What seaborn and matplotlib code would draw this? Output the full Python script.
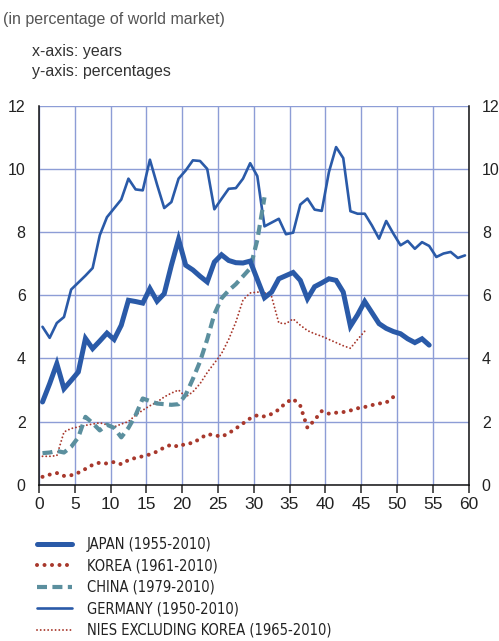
import numpy as np
import pandas as pd
import seaborn as sns
import matplotlib
matplotlib.use("Agg")
from matplotlib import pyplot as plt

# values, one point per year, x = years since series start
japan_start = 0.5
japan = [2.62, 3.2, 3.83, 3.04, 3.3, 3.57, 4.63, 4.31, 4.55, 4.8,
         4.6, 5.05, 5.84, 5.8, 5.75, 6.21, 5.81, 6.05, 6.95, 7.77,
         6.95, 6.8, 6.6, 6.42, 7.05, 7.28, 7.1, 7.03, 7.02, 7.08,
         6.5, 5.92, 6.1, 6.52, 6.62, 6.72, 6.47, 5.89, 6.27, 6.39,
         6.52, 6.47, 6.1, 5.02, 5.38, 5.8, 5.45, 5.1, 4.95, 4.85,
         4.78, 4.62, 4.5, 4.62, 4.42]

korea_start = 0.5
korea = [0.25, 0.32, 0.37, 0.28, 0.3, 0.38, 0.5, 0.63, 0.7, 0.67,
         0.72, 0.65, 0.78, 0.85, 0.9, 0.96, 1.05, 1.18, 1.27, 1.2,
         1.3, 1.32, 1.46, 1.6, 1.57, 1.52, 1.63, 1.78, 1.94, 2.1,
         2.2, 2.16, 2.24, 2.38, 2.6, 2.72, 2.5, 1.8, 2.05, 2.33,
         2.25, 2.28, 2.3, 2.35, 2.42, 2.46, 2.52, 2.57, 2.6, 2.78]

china_start = 0.5
china = [1.0, 1.02, 1.07, 1.02, 1.2, 1.5, 2.15, 1.95, 1.72, 1.9,
         1.8, 1.5, 1.8, 2.2, 2.73, 2.65, 2.57, 2.55, 2.53, 2.55,
         2.85, 3.35, 3.9, 4.6, 5.4, 5.9, 6.15, 6.35, 6.6, 6.85,
         7.75, 9.1]

germany_start = 0.5
germany = [5.0, 4.65, 5.12, 5.31, 6.18, 6.4, 6.62, 6.86, 7.9, 8.47,
           8.75, 9.03, 9.69, 9.35, 9.32, 10.29, 9.5, 8.76, 8.95, 9.69,
           9.95, 10.27, 10.25, 10.0, 8.72, 9.05, 9.37, 9.39, 9.69, 10.18,
           9.77, 8.18, 8.3, 8.42, 7.93, 7.98, 8.87, 9.06, 8.71, 8.67,
           9.9, 10.69, 10.34, 8.66, 8.58, 8.58, 8.21, 7.79, 8.35, 7.95,
           7.58, 7.72, 7.47, 7.68, 7.56, 7.21, 7.32, 7.37, 7.18, 7.26]

nies_start = 0.5
nies = [0.9, 0.9, 0.92, 1.67, 1.78, 1.83, 1.88, 1.92, 1.96, 1.9,
        1.83, 1.92, 2.0, 2.2, 2.36, 2.5, 2.62, 2.78, 2.9, 3.0,
        2.78, 2.94, 3.2, 3.55, 3.85, 4.15, 4.6, 5.15, 5.85, 6.07,
        6.1, 6.08, 5.95, 5.12, 5.1, 5.25, 5.05, 4.88, 4.78, 4.7,
        4.6, 4.5, 4.4, 4.32, 4.6, 4.86]

labels = ["JAPAN (1955-2010)", "KOREA (1961-2010)", "CHINA (1979-2010)",
          "GERMANY (1950-2010)", "NIES EXCLUDING KOREA (1965-2010)"]
x_ticks = [0, 5, 10, 15, 20, 25, 30, 35, 40, 45, 50, 55, 60]
y_ticks = [0, 2, 4, 6, 8, 10, 12]


def to_df(start, vals):
    return pd.DataFrame({"x": start + np.arange(len(vals)), "y": vals})


sns.set_style("white")
plt.rcParams["font.family"] = ["Liberation Sans", "DejaVu Sans"]

blue = "#2a5aa8"
red = "#a8382c"
teal = "#5b8f9e"
grid = "#8d9dd6"

fig = plt.figure(figsize=(4.99, 6.41), dpi=100)
ax = fig.add_axes([0.078, 0.2438, 0.861, 0.5913])

sns.lineplot(data=to_df(germany_start, germany), x="x", y="y", ax=ax, color=blue,
             lw=1.9, label=labels[3], legend=False, zorder=3)
sns.lineplot(data=to_df(nies_start, nies), x="x", y="y", ax=ax, color=red,
             lw=1.4, linestyle=(0, (0.01, 1.9)), dash_capstyle="round",
             label=labels[4], legend=False, zorder=3)
sns.lineplot(data=to_df(korea_start, korea), x="x", y="y", ax=ax, color=red,
             lw=2.9, linestyle=(0, (0.01, 1.85)), dash_capstyle="round",
             label=labels[1], legend=False, zorder=3)
sns.lineplot(data=to_df(china_start, china), x="x", y="y", ax=ax, color=teal,
             lw=3.0, linestyle=(0, (2.4, 1.3)), label=labels[2], legend=False, zorder=3)
sns.lineplot(data=to_df(japan_start, japan), x="x", y="y", ax=ax, color=blue,
             lw=3.6, label=labels[0], legend=False, zorder=4,
             solid_joinstyle="miter")

ax.set_xlim(0, 60)
ax.set_ylim(0, 12)
ax.set_xticks(x_ticks)
ax.set_yticks(y_ticks)
ax.set_xlabel("")
ax.set_ylabel("")
ax.grid(True, color=grid, lw=1.0)
ax.set_axisbelow(True)
for s in ["left", "right", "bottom"]:
    ax.spines[s].set_color("#111111")
    ax.spines[s].set_linewidth(1.1)
ax.spines["top"].set_visible(False)
ax.tick_params(axis="y", left=False, right=False, labelleft=True, labelright=True,
               labelsize=11.5, pad=6)
ax.tick_params(axis="x", bottom=True, direction="out", length=6, width=1.1,
               labelsize=12.5, pad=3)
for t in ax.get_xticklabels() + ax.get_yticklabels():
    t.set_color("#222222")

fig.text(0.006, 0.969, "(in percentage of world market)", fontsize=11.5, color="#555555",
         va="center", ha="left")
fig.text(0.064, 0.919, "x-axis: years", fontsize=11.5, color="#333333", va="center")
fig.text(0.064, 0.888, "y-axis: percentages", fontsize=11.5, color="#333333", va="center")

handles, labs = ax.get_legend_handles_labels()
order = [labs.index(l) for l in labels]
leg = fig.legend([handles[i] for i in order], [labs[i] for i in order],
                 loc="upper left", bbox_to_anchor=(0.074, 0.162), frameon=False,
                 prop={"family": "DejaVu Sans", "stretch": "condensed", "size": 10.5},
                 handlelength=2.4, handletextpad=1.0, labelspacing=0.44,
                 borderaxespad=0, borderpad=0)
for t in leg.get_texts():
    t.set_color("#222222")

fig.savefig("out.png", dpi=100)
